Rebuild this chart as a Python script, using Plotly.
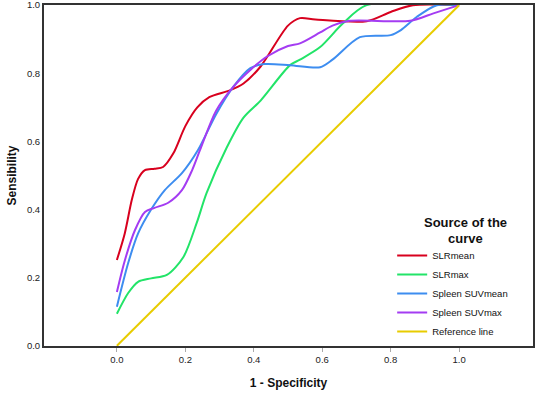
import plotly.graph_objects as go

# ROC curve data
slrmean_x = [0, 0.023, 0.044, 0.062, 0.082, 0.11, 0.135, 0.165, 0.20, 0.235, 0.27, 0.33, 0.37, 0.42, 0.50, 0.535, 0.58, 0.73, 0.80, 0.865, 1.0]
slrmean_y = [0.252, 0.33, 0.43, 0.49, 0.516, 0.52, 0.525, 0.565, 0.645, 0.70, 0.73, 0.75, 0.77, 0.82, 0.94, 0.962, 0.958, 0.953, 0.98, 1.0, 1.0]

slrmax_x = [0, 0.033, 0.062, 0.10, 0.146, 0.194, 0.233, 0.262, 0.32, 0.37, 0.42, 0.506, 0.535, 0.594, 0.66, 0.73, 1.0]
slrmax_y = [0.094, 0.155, 0.188, 0.198, 0.208, 0.26, 0.36, 0.448, 0.58, 0.67, 0.72, 0.824, 0.84, 0.877, 0.946, 1.0, 1.0]

suvmean_x = [0, 0.033, 0.062, 0.10, 0.14, 0.19, 0.237, 0.29, 0.34, 0.39, 0.43, 0.506, 0.594, 0.63, 0.71, 0.80, 0.83, 0.877, 0.935, 1.0]
suvmean_y = [0.115, 0.243, 0.33, 0.40, 0.457, 0.507, 0.575, 0.68, 0.76, 0.815, 0.827, 0.824, 0.818, 0.84, 0.906, 0.912, 0.927, 0.966, 1.0, 1.0]

suvmax_x = [0, 0.023, 0.053, 0.082, 0.11, 0.15, 0.19, 0.22, 0.243, 0.29, 0.34, 0.39, 0.44, 0.50, 0.535, 0.594, 0.63, 0.68, 0.857, 0.925, 1.0]
suvmax_y = [0.158, 0.25, 0.34, 0.393, 0.405, 0.42, 0.457, 0.516, 0.575, 0.69, 0.76, 0.81, 0.85, 0.88, 0.888, 0.92, 0.94, 0.954, 0.954, 0.976, 1.0]

ref_x = [0, 1]
ref_y = [0, 1]

names = ["SLRmean", "SLRmax", "Spleen SUVmean", "Spleen SUVmax", "Reference line"]
colors = ["#d8001e", "#22e468", "#3d8df0", "#a43cf2", "#e8cc00"]
series = [(slrmean_x, slrmean_y), (slrmax_x, slrmax_y), (suvmean_x, suvmean_y),
          (suvmax_x, suvmax_y), (ref_x, ref_y)]

tick_vals = [0, 0.2, 0.4, 0.6, 0.8, 1.0]
tick_text = ["0.0", "0.2", "0.4", "0.6", "0.8", "1.0"]
legend_title_lines = ["Source of the", "curve"]

fig = go.Figure()
for name, col, (xs, ys) in zip(names, colors, series):
    fig.add_trace(go.Scatter(
        x=xs, y=ys, mode="lines", name=name,
        line=dict(color=col, width=2, shape="spline", smoothing=0.8),
    ))

# legend title as centered annotations (paper coords)
for i, line in enumerate(legend_title_lines):
    fig.add_annotation(
        text="<b>%s</b>" % line, xref="paper", yref="paper",
        x=0.862, y=0.362 - i * 0.047, xanchor="center", yanchor="middle",
        showarrow=False, font=dict(size=13, color="#111"),
    )

fig.update_layout(
    width=536, height=397,
    margin=dict(l=44, r=3, t=5, b=51, autoexpand=False),
    paper_bgcolor="white", plot_bgcolor="white",
    font=dict(family="Liberation Sans, Arial, sans-serif", color="#222", size=10),
    showlegend=True,
    legend=dict(
        x=0.712, y=0.0, xanchor="left", yanchor="bottom",
        bgcolor="rgba(255,255,255,0)",
        font=dict(size=9.5, color="#111"),
        itemwidth=30,
        tracegroupgap=0,
    ),
    xaxis=dict(
        range=[-0.213, 1.216], tickvals=tick_vals, ticktext=tick_text,
        showgrid=False, zeroline=False, automargin=False,
        showline=True, linecolor="#333", linewidth=2, mirror=True,
        ticks="outside", ticklen=4, tickcolor="#aaa", tickwidth=1,
        tickfont=dict(size=9.5, color="#222"),
        title=dict(text="<b>1 - Specificity</b>", font=dict(size=12, color="#111"), standoff=14),
    ),
    yaxis=dict(
        range=[-0.0005, 1.0005], tickvals=tick_vals, ticktext=tick_text,
        showgrid=False, zeroline=False, automargin=False,
        showline=True, linecolor="#333", linewidth=2, mirror=True,
        ticks="", tickfont=dict(size=9.5, color="#222"), ticklabeloverflow="allow",
        title=dict(text="<b>Sensibility</b>", font=dict(size=12, color="#111"), standoff=8),
    ),
)

fig.write_html("out.html", config={"displayModeBar": False},
               post_script="document.body.style.margin='0px';")
